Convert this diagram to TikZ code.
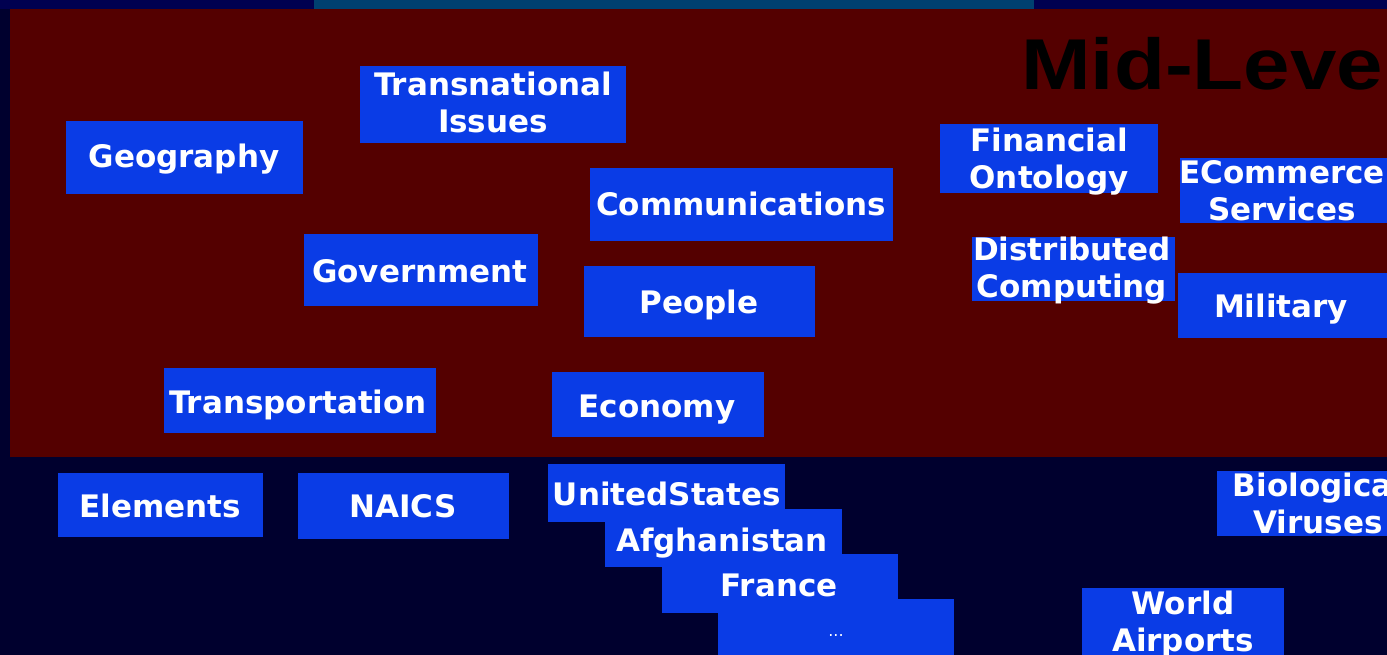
\documentclass[tikz,border=0pt]{standalone}
\usepackage{fontspec}
\setmainfont{DejaVu Sans}
\newfontfamily\titlefont{Liberation Sans}
\definecolor{navyband}{RGB}{0,0,80}
\definecolor{navybg}{RGB}{0,0,46}
\definecolor{tealband}{RGB}{0,64,112}
\definecolor{panelred}{RGB}{84,0,0}
\definecolor{topicblue}{RGB}{10,60,230}
\tikzset{
  topic/.style={fill=topicblue, inner sep=0pt, anchor=north west},
  % base anchor: baseline of the last line of the label
  lbl/.style={text=white, font=\bfseries\fontsize{31}{37}\selectfont, align=center, inner sep=0pt, anchor=base},
}
\begin{document}
\begin{tikzpicture}[x=1pt,y=-1pt]
\useasboundingbox (0,0) rectangle (1387,655);
\begin{scope}
\clip (0,0) rectangle (1387,655);
% backdrop
\fill[navybg] (0,0) rectangle (1387,655);
\fill[navyband] (0,0) rectangle (1387,9);
\fill[tealband] (314,0) rectangle (1034,9);
\fill[panelred] (10,9) rectangle (1400,457);
% heading
\node[anchor=base west, inner sep=0pt, text=black, font=\titlefont\bfseries\fontsize{72}{80}\selectfont] (title) at (1021,90) {\scalebox{1.16}[1]{Mid-Level}};

% boxes of the mid-level topics
\node[topic, minimum width=266, minimum height=77] (trans) at (360,66) {};
\node[topic, minimum width=237, minimum height=73] (geo) at (66,121) {};
\node[topic, minimum width=303, minimum height=73] (comm) at (590,168) {};
\node[topic, minimum width=234, minimum height=72] (gov) at (304,234) {};
\node[topic, minimum width=231, minimum height=71] (people) at (584,266) {};
\node[topic, minimum width=272, minimum height=65] (transp) at (164,368) {};
\node[topic, minimum width=212, minimum height=65] (econ) at (552,372) {};
\node[topic, minimum width=218, minimum height=69] (fin) at (940,124) {};
\node[topic, minimum width=220, minimum height=65] (ecom) at (1180,158) {};
\node[topic, minimum width=203, minimum height=64] (dist) at (972,237) {};
\node[topic, minimum width=220, minimum height=65] (mil) at (1178,273) {};

% boxes of the domain ontologies below the panel
\node[topic, minimum width=205, minimum height=64] (elem) at (58,473) {};
\node[topic, minimum width=211, minimum height=66] (naics) at (298,473) {};
\node[topic, minimum width=237, minimum height=58] (us) at (548,464) {};
\node[topic, minimum width=237, minimum height=58] (afg) at (605,509) {};
\node[topic, minimum width=236, minimum height=59] (fra) at (662,554) {};
\node[topic, minimum width=236, minimum height=60] (more) at (718,599) {};
\node[topic, minimum width=202, minimum height=65] (bio) at (1217,471) {};
\node[topic, minimum width=202, minimum height=70] (air) at (1082,588) {};

% labels
\node[lbl] (trans-t) at (493,133) {Transnational\\Issues};
\node[lbl] (geo-t) at (184,168) {Geography};
\node[lbl] (comm-t) at (741,216) {Communications};
\node[lbl] (gov-t) at (420,282) {Government};
\node[lbl] (people-t) at (699,313) {People};
\node[lbl] (transp-t) at (298,413) {Transportation};
\node[lbl] (econ-t) at (657,417) {Economy};
\node[lbl] (fin-t) at (1049,189) {Financial\\Ontology};
\node[lbl] (ecom-t) at (1282,221) {ECommerce\\Services};
\node[lbl] (dist-t) at (1072,298) {Distributed\\Computing};
\node[lbl] (mil-t) at (1281,317) {Military};
\node[lbl] (elem-t) at (160,517) {Elements};
\node[lbl] (naics-t) at (403,517) {NAICS};
\node[lbl] (us-t) at (667,505) {UnitedStates};
\node[lbl] (afg-t) at (722,551) {Afghanistan};
\node[lbl] (fra-t) at (779,596) {France};
\node[text=white, font=\fontsize{16}{18}\selectfont, inner sep=0pt, anchor=base] (more-t) at (836,636) {...};
\node[lbl] (bio-t) at (1318,533) {Biological\\Viruses};
\node[lbl] (air-t) at (1183,651) {World\\Airports};
\end{scope}
\end{tikzpicture}
\end{document}
